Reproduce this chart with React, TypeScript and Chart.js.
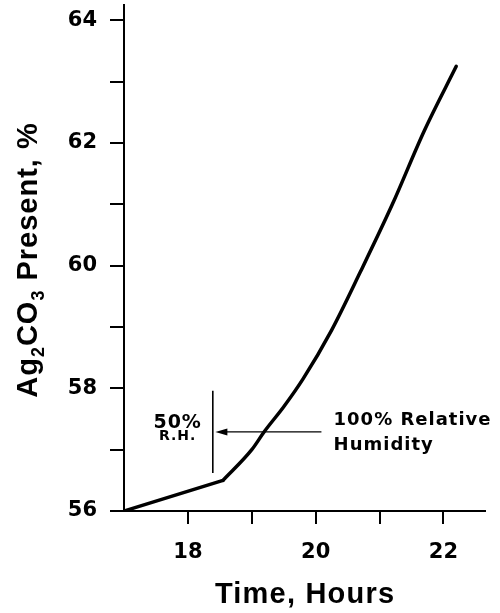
import { useEffect, useRef } from 'react';
import { Chart, registerables } from 'chart.js';

Chart.register(...registerables);

// Data
const dryTimes = [17, 18.55];
const dryValues = [56, 56.5];
const humidTimes = [18.55, 19.0, 19.2, 19.5, 19.8, 20.25, 20.7, 21.2, 21.7, 22.2];
const humidValues = [56.5, 57.0, 57.3, 57.7, 58.15, 58.95, 59.9, 61.0, 62.2, 63.25];

// Axes
const xMin = 17;
const xMax = 22.65;
const yMin = 56;
const yMax = 64.25;
const xTickValues = [18, 19, 20, 21, 22];
const xTickLabels = ['18', '', '20', '', '22'];
const yTickValues = [56, 57, 58, 59, 60, 61, 62, 63, 64];
const yTickLabels = ['56', '', '58', '', '60', '', '62', '', '64'];
const xTitle = 'Time, Hours';
// y title pieces: [text, isSubscript]
const yTitleParts: [string, boolean][] = [
  ['Ag', false],
  ['2', true],
  ['CO', false],
  ['3', true],
  [' Present, %', false],
];

// Annotation (in data units)
const rhLabels = ['50%', 'R.H.'];
const rhLabelTime = 17.84;
const rhLabelLevels = [57.44, 57.21];
const humidLabels = ['100% Relative', 'Humidity'];
const humidLabelTime = 20.28;
const humidLabelLevels = [57.48, 57.07];
const rhMarkTime = 18.39;
const rhMarkRange = [56.62, 57.96];
const arrowLevel = 57.29;
const arrowFrom = 20.09;
const arrowTo = 18.43;

const toPoints = (xs: number[], ys: number[]) => xs.map((x, i) => ({ x, y: ys[i] }));

const TITLE_FONT = 'bold 29px "Liberation Sans", Arial, sans-serif';
const SUB_FONT = 'bold 18px "Liberation Sans", Arial, sans-serif';

const annotationPlugin = {
  id: 'rhAnnotation',
  afterDatasetsDraw(chart: any) {
    const { ctx, scales } = chart;
    const x = scales.x;
    const y = scales.y;
    ctx.save();
    ctx.strokeStyle = '#000';
    ctx.fillStyle = '#000';
    ctx.lineWidth = 1.6;
    const lx = x.getPixelForValue(rhMarkTime);
    ctx.beginPath();
    ctx.moveTo(lx, y.getPixelForValue(rhMarkRange[0]));
    ctx.lineTo(lx, y.getPixelForValue(rhMarkRange[1]));
    ctx.stroke();

    const ay = y.getPixelForValue(arrowLevel);
    const ax0 = x.getPixelForValue(arrowFrom);
    const ax1 = x.getPixelForValue(arrowTo);
    ctx.lineWidth = 1.4;
    ctx.beginPath();
    ctx.moveTo(ax0, ay);
    ctx.lineTo(ax1 + 8, ay);
    ctx.stroke();
    ctx.beginPath();
    ctx.moveTo(ax1, ay);
    ctx.lineTo(ax1 + 12, ay - 3.5);
    ctx.lineTo(ax1 + 12, ay + 3.5);
    ctx.closePath();
    ctx.fill();

    ctx.textBaseline = 'middle';
    (ctx as any).letterSpacing = '1px';
    ctx.textAlign = 'center';
    ctx.font = 'bold 19px "DejaVu Sans"';
    ctx.fillText(rhLabels[0], x.getPixelForValue(rhLabelTime), y.getPixelForValue(rhLabelLevels[0]));
    ctx.font = 'bold 14px "DejaVu Sans"';
    ctx.fillText(rhLabels[1], x.getPixelForValue(rhLabelTime), y.getPixelForValue(rhLabelLevels[1]));

    ctx.textAlign = 'left';
    ctx.font = 'bold 18px "DejaVu Sans"';
    ctx.fillText(humidLabels[0], x.getPixelForValue(humidLabelTime), y.getPixelForValue(humidLabelLevels[0]));
    ctx.fillText(humidLabels[1], x.getPixelForValue(humidLabelTime), y.getPixelForValue(humidLabelLevels[1]));
    ctx.restore();
  },
  afterDraw(chart: any) {
    const { ctx, chartArea } = chart;
    ctx.save();
    ctx.fillStyle = '#000';
    ctx.textAlign = 'left';
    ctx.textBaseline = 'alphabetic';

    // x title
    (ctx as any).letterSpacing = '1.2px';
    ctx.font = TITLE_FONT;
    const xw = ctx.measureText(xTitle).width - 1.2;
    const xc = (chartArea.left + chartArea.right) / 2;
    ctx.fillText(xTitle, xc - xw / 2, 603);

    // y title, rotated, with subscripts
    (ctx as any).letterSpacing = '1px';
    const widths = yTitleParts.map(([t, sub]) => {
      ctx.font = sub ? SUB_FONT : TITLE_FONT;
      return ctx.measureText(t).width;
    });
    const total = widths.reduce((a, b) => a + b, 0);
    const yc = (chartArea.top + chartArea.bottom) / 2 + 2;
    ctx.translate(0, yc);
    ctx.rotate(-Math.PI / 2);
    let pos = -total / 2;
    yTitleParts.forEach(([t, sub], i) => {
      ctx.font = sub ? SUB_FONT : TITLE_FONT;
      ctx.fillText(t, pos, sub ? 44 : 37);
      pos += widths[i];
    });
    ctx.restore();
  },
};

export default function App() {
  const canvasRef = useRef<HTMLCanvasElement | null>(null);

  useEffect(() => {
    if (!canvasRef.current) return;
    const tickFont = { family: '"DejaVu Sans"', size: 21, weight: 'bold' as const };
    const chart = new Chart(canvasRef.current, {
      type: 'line',
      data: {
        datasets: [
          {
            data: toPoints(dryTimes, dryValues),
            borderColor: '#000',
            borderWidth: 3.5,
            pointRadius: 0,
            tension: 0,
            borderCapStyle: 'round',
            borderJoinStyle: 'round',
          },
          {
            data: toPoints(humidTimes, humidValues),
            borderColor: '#000',
            borderWidth: 3.5,
            pointRadius: 0,
            cubicInterpolationMode: 'monotone',
            borderCapStyle: 'round',
            borderJoinStyle: 'round',
          },
        ],
      },
      options: {
        responsive: false,
        maintainAspectRatio: false,
        animation: false,
        layout: { padding: { top: 5, right: 15, left: 0, bottom: 0 } },
        plugins: {
          legend: { display: false },
          tooltip: { enabled: false },
        },
        scales: {
          x: {
            type: 'linear',
            min: xMin,
            max: xMax,
            afterBuildTicks: (s: any) => {
              s.ticks = xTickValues.map((v) => ({ value: v }));
            },
            afterFit: (s: any) => {
              s.height = 102;
              s.paddingLeft = 0;
              s.paddingRight = 0;
            },
            ticks: {
              autoSkip: false,
              maxRotation: 0,
              padding: 16,
              color: '#000',
              font: tickFont,
              callback: (_v: any, i: number) => xTickLabels[i],
            },
            grid: {
              drawOnChartArea: false,
              drawTicks: true,
              tickLength: 13,
              tickWidth: 2,
              tickColor: '#000',
              color: '#000',
              lineWidth: 2,
            },
            border: { display: true, color: '#000', width: 2 },
          },
          y: {
            type: 'linear',
            min: yMin,
            max: yMax,
            afterBuildTicks: (s: any) => {
              s.ticks = yTickValues.map((v) => ({ value: v }));
            },
            afterFit: (s: any) => {
              s.width = 124;
              s.paddingTop = 0;
              s.paddingBottom = 0;
            },
            ticks: {
              autoSkip: false,
              padding: 13,
              color: '#000',
              font: tickFont,
              callback: (_v: any, i: number) => yTickLabels[i],
            },
            grid: {
              drawOnChartArea: false,
              drawTicks: true,
              tickLength: 14,
              tickWidth: 2,
              tickColor: '#000',
              color: '#000',
              lineWidth: 2,
            },
            border: { display: true, color: '#000', width: 2 },
          },
        },
      },
      plugins: [annotationPlugin],
    });
    return () => chart.destroy();
  }, []);

  return (
    <div style={{ position: 'absolute', left: 0, top: 0, width: 500, height: 613, background: '#fff' }}>
      <canvas ref={canvasRef} width={500} height={613} style={{ display: 'block', width: 500, height: 613 }} />
    </div>
  );
}
